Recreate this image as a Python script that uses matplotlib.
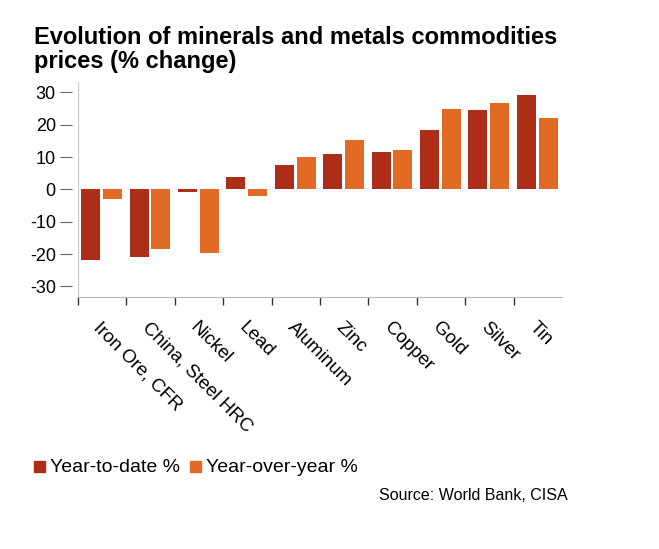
import numpy as np
import matplotlib.pyplot as plt

plt.rcParams['font.family'] = ['Liberation Sans', 'DejaVu Sans']

# data
categories = ["Iron Ore, CFR", "China, Steel HRC", "Nickel", "Lead", "Aluminum",
              "Zinc", "Copper", "Gold", "Silver", "Tin"]
ytd = [-21.8, -21.0, -0.7, 3.9, 7.5, 10.9, 11.7, 18.2, 24.5, 29.3]
yoy = [-3.0, -18.3, -19.8, -2.2, 9.9, 15.3, 12.3, 24.8, 26.8, 22.0]
yticks = [-30, -20, -10, 0, 10, 20, 30]

C_YTD = '#ac2d18'
C_YOY = '#e16a25'

W, H = 659, 549
fig = plt.figure(figsize=(W / 100, H / 100), dpi=100)
ax = fig.add_axes([78 / W, 1 - 297 / H, (562 - 78) / W, (297 - 82) / H])

x = np.arange(len(categories))
w = 0.395
ax.bar(x + 0.065, ytd, width=w, align='edge', color=C_YTD, edgecolor='none', zorder=2)
ax.bar(x + 0.515, yoy, width=w, align='edge', color=C_YOY, edgecolor='none', zorder=2)

ax.set_xlim(0, len(categories))
ax.set_ylim(-33.3, 33.2)

# y axis: ticks sit a little away from the axis line
ax.spines['left'].set_position(('outward', 4))
ax.spines['left'].set_visible(False)
ax.axvline(0, color='#cccccc', lw=1, zorder=1)
ax.set_yticks(yticks)
ax.set_yticklabels([str(v) for v in yticks], fontsize=13)
ax.tick_params(axis='y', length=9, width=0.8, color='#666666', pad=3)

# x axis: ticks between categories, labels at centers
ax.set_xticks(x)
ax.set_xticklabels([])
ax.tick_params(axis='x', which='major', length=6, width=1, color='#333333')
ax.set_xticks(x + 0.5, minor=True)
ax.set_xticklabels(categories, minor=True, rotation=-45, ha='left',
                   rotation_mode='anchor', fontsize=13.5)
ax.tick_params(axis='x', which='minor', length=0, pad=16)

for s in ['top', 'right']:
    ax.spines[s].set_visible(False)
ax.spines['bottom'].set_color('#bbbbbb')

fig.text(34 / W, 1 - 44 / H, "Evolution of minerals and metals commodities",
         fontsize=17, fontweight='bold', ha='left', va='baseline')
fig.text(34 / W, 1 - 68 / H, "prices (% change)",
         fontsize=17, fontweight='bold', ha='left', va='baseline')

# legend
fig.patches.append(plt.Rectangle((34 / W, 1 - 472 / H), 11 / W, 11 / H,
                                 transform=fig.transFigure, color=C_YTD))
fig.text(50 / W, 1 - 472 / H, "Year-to-date %", fontsize=14, va='baseline')
fig.patches.append(plt.Rectangle((190 / W, 1 - 472 / H), 11 / W, 11 / H,
                                 transform=fig.transFigure, color=C_YOY))
fig.text(206 / W, 1 - 472 / H, "Year-over-year %", fontsize=14, va='baseline')

fig.text(568 / W, 1 - 500 / H, "Source: World Bank, CISA", fontsize=11.5,
         ha='right', va='baseline')

fig.savefig('out.png', dpi=100, facecolor='white')
